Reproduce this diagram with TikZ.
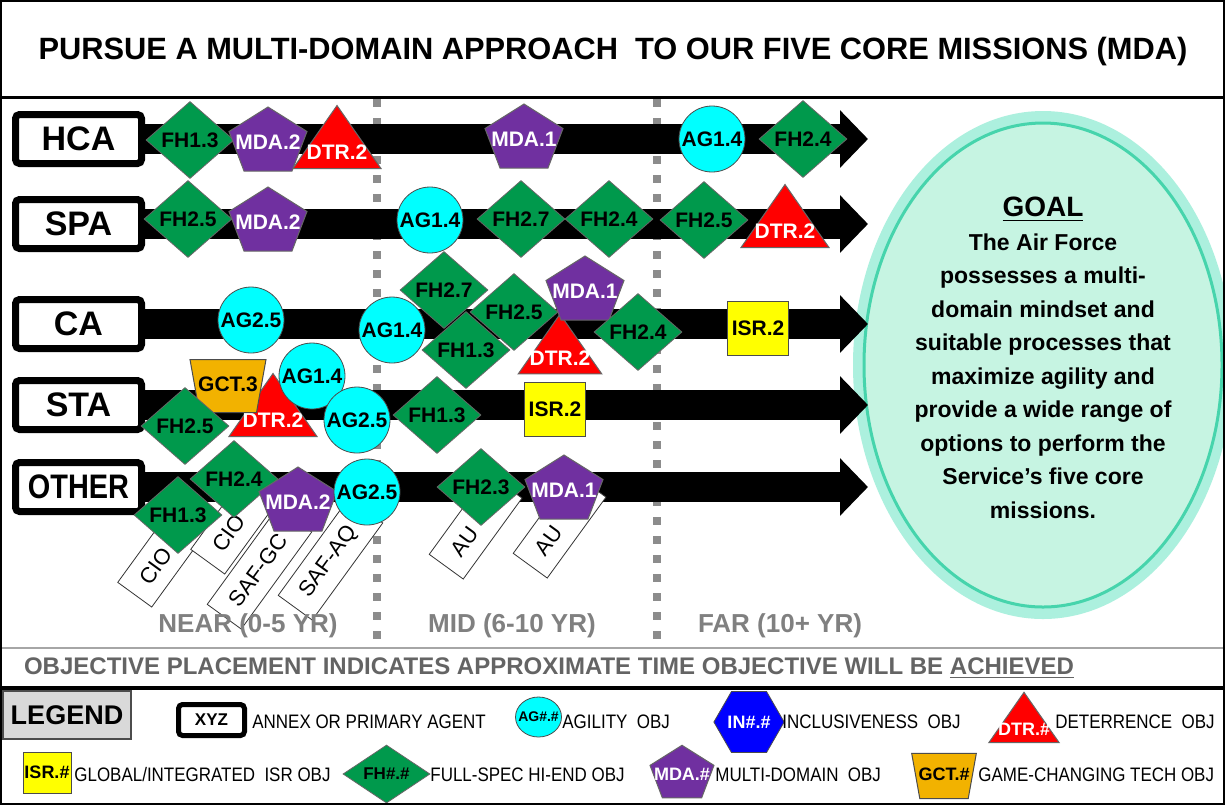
\documentclass[tikz,border=0pt]{standalone}
\usepackage{fontspec}
\setmainfont{Liberation Sans}
\usepackage{graphicx}
\usetikzlibrary{arrows.meta,shapes.geometric,calc}

\definecolor{fhgreen}{RGB}{0,153,76}
\definecolor{agcyan}{RGB}{0,255,255}
\definecolor{mdapurple}{RGB}{112,48,160}
\definecolor{dtrred}{RGB}{255,0,0}
\definecolor{isryellow}{RGB}{255,255,0}
\definecolor{gctorange}{RGB}{242,178,0}
\definecolor{inblue}{RGB}{0,0,255}
\definecolor{goalfill}{RGB}{198,244,226}
\definecolor{goaledge}{RGB}{70,212,172}
\definecolor{goalglow}{RGB}{172,240,222}
\definecolor{sepgray}{RGB}{140,140,140}
\definecolor{timegray}{RGB}{128,128,128}
\definecolor{notegray}{RGB}{100,100,100}
\definecolor{legendgray}{RGB}{217,217,217}

\newcommand{\objfont}{\bfseries\fontsize{10.5}{12}\selectfont}
\newcommand{\legsym}{\bfseries\fontsize{9}{10}\selectfont}
\newcommand{\narrow}[1]{\scalebox{0.87}[1]{#1}}
\newcommand{\pentobj}[4][1]{%
  \filldraw[mda shape,shift={(#3)},scale=#1] (0,-32) -- (39,-7.5) -- (24,32) -- (-24,32) -- (-39,-7.5) -- cycle;
  \node[obj text] (#2) at ($(#3)+(0,3*#1)$) {#4};}
\newcommand{\triobj}[4][1]{%
  \filldraw[dtr shape,shift={(#3)},scale=#1] (0,-31.5) -- (44,31.5) -- (-44,31.5) -- cycle;
  \node[obj text] (#2) at ($(#3)+(0,15*#1)$) {#4};}
\newcommand{\gctobj}[4][1]{%
  \filldraw[gct shape,shift={(#3)},scale=#1] (-38,-26.5) -- (38,-26.5) -- (28.5,26.5) -- (-28.5,26.5) -- cycle;
  \node[obj text,text=black] (#2) at ($(#3)+(0,-2*#1)$) {#4};}

\begin{document}
\begin{tikzpicture}[x=0.5pt,y=-0.5pt,
  row node/.style={draw,line width=3.5pt,rounded corners=2pt,fill=white,minimum width=63pt,minimum height=24.5pt,inner sep=0,font=\bfseries\fontsize{17}{20}\selectfont},
  bar/.style={line width=15pt,-{Triangle[length=14pt,width=28pt]}},
  time sep/.style={draw=sepgray,line width=4pt,dash pattern=on 4pt off 5.5pt},
  time label/.style={text=timegray,inner sep=0,font=\bfseries\fontsize{13}{15}\selectfont},
  fh node/.style={diamond,draw=black!60,fill=fhgreen,minimum width=44pt,minimum height=38.5pt,inner sep=0,font=\objfont},
  ag node/.style={circle,draw=black!70,fill=agcyan,minimum size=33pt,inner sep=0,font=\objfont},
  isr node/.style={rectangle,draw=black!70,fill=isryellow,minimum width=30.5pt,minimum height=27pt,inner sep=0,font=\objfont},
  mda shape/.style={fill=mdapurple,draw=black!60,line width=0.5pt},
  dtr shape/.style={fill=dtrred,draw=black!60,line width=0.5pt},
  gct shape/.style={fill=gctorange,draw=black!70,line width=0.5pt},
  obj text/.style={text=white,inner sep=0,font=\objfont},
  tag node/.style={draw=black!80,fill=white,rotate=54,anchor=west,align=left,inner xsep=8pt,inner ysep=0pt,minimum height=21pt,font=\fontsize{11}{12}\selectfont},
  legend text/.style={anchor=west,inner sep=0,font=\fontsize{9.75}{11}\selectfont},
  goal text/.style={anchor=north,align=center,inner sep=0,font=\bfseries\fontsize{11.5}{16.75}\selectfont}]

  \useasboundingbox (0,0) rectangle (1225,805);
  \fill[white] (0,0) rectangle (1225,805);

  \node[font=\bfseries\fontsize{15.4}{18}\selectfont] (title) at (613,52) {PURSUE A MULTI-DOMAIN APPROACH~ TO OUR FIVE CORE MISSIONS (MDA)};

  \fill[goalglow] (1043,365) ellipse [x radius=190, y radius=254];
  \filldraw[fill=goalfill,draw=goaledge,line width=1.5pt] (1043,365) ellipse [x radius=179, y radius=242];
  \node[goal text] (goal) at (1043,197) {{\fontsize{14}{17}\selectfont\underline{GOAL}}\\The Air Force\\possesses a multi-\\domain mindset and\\suitable processes that\\maximize agility and\\provide a wide range of\\options to perform the\\Service’s five core\\missions.};

  \draw[time sep] (377,99) -- (377,648);
  \draw[time sep] (657,99) -- (657,648);

  \node[row node] (hca)   at (78.5,139) {HCA};
  \node[row node] (spa)   at (78.5,224) {SPA};
  \node[row node] (ca)    at (78.5,324) {CA};
  \node[row node] (sta)   at (78.5,405) {STA};
  \node[row node] (other) at (78.5,487) {\scalebox{0.85}[1]{OTHER}};
  \coordinate (hca tip)   at (868,139);
  \coordinate (spa tip)   at (868,224);
  \coordinate (ca tip)    at (868,324);
  \coordinate (sta tip)   at (868,405);
  \coordinate (other tip) at (868,487);
  \foreach \r in {hca,spa,ca,sta,other}
    \draw[bar] (\r) -- (\r\space tip);

  \node[tag node,text width=34pt] (cio a)  at (134.5,595) {CIO};
  \node[tag node,text width=34pt] (cio b)  at (207.5,562) {CIO};
  \node[tag node,text width=44pt] (saf gc) at (224,617) {SAF-GC};
  \node[tag node,text width=44pt] (saf aq) at (295,608) {SAF-AQ};
  \node[tag node,text width=34pt] (au a)   at (446,567) {AU};
  \node[tag node,text width=34pt] (au b)   at (530,566) {AU};

  \node[time label] (near) at (248,626) {NEAR (0-5 YR)};
  \node[time label] (mid)  at (512,626) {MID (6-10 YR)};
  \node[time label] (far)  at (780,626) {FAR (10+ YR)};

  \node[fh node] (hca fh13) at (190,140) {FH1.3};
  \pentobj{hca mda2}{268,139}{MDA.2}
  \triobj{hca dtr2}{337,137}{DTR.2}
  \pentobj{hca mda1}{524,136}{MDA.1}
  \node[ag node] (hca ag14) at (712,139) {AG1.4};
  \node[fh node] (hca fh24) at (803,139) {FH2.4};

  \node[fh node] (spa fh25) at (188,219) {FH2.5};
  \pentobj{spa mda2}{268,219}{MDA.2}
  \node[ag node] (spa ag14) at (430,220) {AG1.4};
  \node[fh node] (spa fh27) at (521,219) {FH2.7};
  \node[fh node] (spa fh24) at (609,219) {FH2.4};
  \node[fh node] (spa fh25b) at (704,220) {FH2.5};
  \triobj{spa dtr2}{785,216}{DTR.2}

  \node[ag node] (ca ag25) at (251,320) {AG2.5};
  \node[fh node] (ca fh27) at (444,290) {FH2.7};
  \node[fh node] (ca fh13) at (466,350) {FH1.3};
  \node[ag node] (ca ag14) at (392,330) {AG1.4};
  \node[fh node] (ca fh25) at (514,312) {FH2.5};
  \triobj[0.95]{ca dtr2}{560,344}{DTR.2}
  \pentobj{ca mda1}{585,288}{MDA.1}
  \node[fh node] (ca fh24) at (638,332) {FH2.4};
  \node[isr node] (ca isr2) at (758,328) {ISR.2};

  \triobj{sta dtr2}{273,405}{DTR.2}
  \gctobj{sta gct3}{228,386}{GCT.3}
  \node[fh node] (sta fh25) at (185,426) {FH2.5};
  \node[ag node] (sta ag14) at (312,376) {AG1.4};
  \node[ag node] (sta ag25) at (357,420) {AG2.5};
  \node[fh node] (sta fh13) at (437,415) {FH1.3};
  \node[isr node] (sta isr2) at (555,409) {ISR.2};

  \node[fh node] (other fh24) at (234,479) {FH2.4};
  \node[fh node] (other fh13) at (178,515) {FH1.3};
  \pentobj{other mda2}{298,499}{MDA.2}
  \node[ag node] (other ag25) at (367,492) {AG2.5};
  \node[fh node] (other fh23) at (481,487) {FH2.3};
  \pentobj{other mda1}{564,487}{MDA.1}

  \draw[line width=1.5pt] (0,97) -- (1225,97);
  \draw[black!35,line width=1pt] (0,648) -- (1225,648);
  \node[text=notegray,font=\bfseries\fontsize{12}{14}\selectfont] (placement) at (549,668) {OBJECTIVE PLACEMENT INDICATES APPROXIMATE TIME OBJECTIVE WILL BE \underline{ACHIEVED}};
  \draw[line width=2pt] (0,688) -- (1225,688);

  \node[draw=black!70,fill=legendgray,line width=1pt,minimum width=64pt,minimum height=24pt,inner sep=0,font=\bfseries\fontsize{13.5}{15}\selectfont] (legend) at (67,715) {LEGEND};
  \node[row node,line width=2.5pt,minimum width=33pt,minimum height=15.5pt,font=\bfseries\fontsize{8.5}{10}\selectfont] (leg xyz) at (211.5,720) {XYZ};
  \node[legend text] (leg xyz text) at (252,722) {\narrow{ANNEX OR PRIMARY AGENT}};
  \node[ellipse,draw=black!70,fill=agcyan,minimum width=23pt,minimum height=20pt,inner sep=0,label={[name=leg ag label,font=\bfseries\fontsize{7}{8}\selectfont]center:AG\#.\#}] (leg ag) at (538.5,717) {};
  \node[legend text] (leg ag text) at (562,722) {\narrow{AGILITY~ OBJ}};
  \node[regular polygon,regular polygon sides=6,draw=black!70,fill=inblue,minimum size=30pt,inner sep=0,text=white,font=\legsym] (leg in) at (749,722) {IN\#.\#};
  \node[legend text] (leg in text) at (782,722) {\narrow{INCLUSIVENESS~ OBJ}};
  \triobj[0.8]{leg dtr}{1024,717.5}{\legsym DTR.\#}
  \node[legend text] (leg dtr text) at (1055,722) {\narrow{DETERRENCE~ OBJ}};

  \node[isr node,minimum width=24pt,minimum height=20.5pt,font=\legsym] (leg isr) at (47,772.5) {ISR.\#};
  \node[legend text] (leg isr text) at (74,775) {\narrow{GLOBAL/INTEGRATED~ ISR OBJ}};
  \node[fh node,minimum width=43.5pt,minimum height=29pt,font=\bfseries\fontsize{8.5}{10}\selectfont] (leg fh) at (386.5,774) {FH\#.\#};
  \node[legend text] (leg fh text) at (430,775) {\narrow{FULL-SPEC HI-END OBJ}};
  \pentobj[0.82]{leg mda}{682,771.5}{\legsym MDA.\#}
  \node[legend text] (leg mda text) at (715,775) {\narrow{MULTI-DOMAIN~ OBJ}};
  \gctobj[0.85]{leg gct}{944,776}{\legsym GCT.\#}
  \node[legend text] (leg gct text) at (978,775) {\narrow{GAME-CHANGING TECH OBJ}};

  \draw[line width=1pt] (1,1) rectangle (1224,804);
\end{tikzpicture}
\end{document}
